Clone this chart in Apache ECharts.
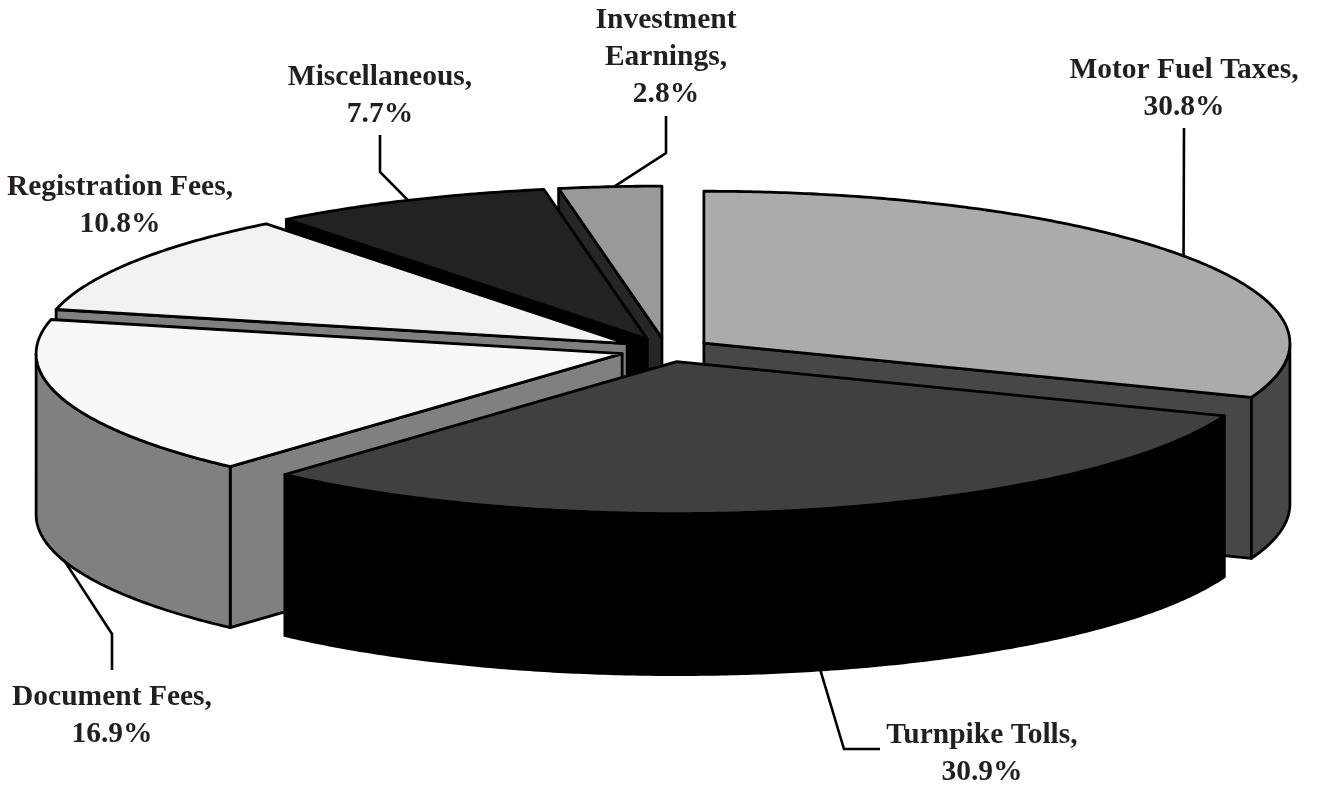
<!DOCTYPE html>
<html>
<head>
<meta charset="utf-8">
<style>html,body{margin:0;padding:0;background:#fff}#chart{width:1317px;height:786px}</style>
<script src="https://cdn.jsdelivr.net/npm/echarts@6/dist/echarts.min.js"></script>
</head>
<body>
<div id="chart"></div>
<script>
// ---- data (clockwise from 12 o'clock; labels show these rounded to one decimal) ----
const categories = ['Motor Fuel Taxes', 'Turnpike Tolls', 'Document Fees', 'Registration Fees', 'Miscellaneous', 'Investment\nEarnings'];
const shares = [30.8, 30.86, 16.94, 10.84, 7.74, 2.82];

// ---- styles ----
const topColors  = ['#ababab', '#404040', '#f8f8f8', '#f2f2f2', '#222222', '#999999'];
const wallColors = ['#474747', '#000000', '#808080', '#808080', '#000000', '#262626'];
const INK = '#000000', TEXT = '#231f20';

// ---- pie projection ----
const CX = 666, CY = 350, RX = 586, RY = 152, DEPTH = 161, EXPLODE = 0.0785;
const LW = 2.8;

// ---- label placement: text centre, leader anchor nudge (deg), then leader elbow/end ----
const labelAt = [[1184, 89], [982, 754], [112, 716], [120, 206], [380, 96], [666, 57]];
const leaderNudge = [-0.5, -0.6, -0.5, 0, 0, 0.4];
const leaderVia = [
  [[1184, 128]],
  [[844, 749], [880, 749]],
  [[112, 634], [112, 670]],
  [],
  [[380, 172], [380, 135]],
  [[666, 153], [666, 116]]
];

const total = shares.reduce((a, b) => a + b, 0);
const slices = [];
shares.reduce((acc, v, i) => {
  const a0 = acc, a1 = acc + v / total * 360, mid = (a0 + a1) / 2, m = mid * Math.PI / 180;
  slices.push({ a0, a1, mid,
    ax: CX + EXPLODE * RX * Math.sin(m),
    ay: CY - EXPLODE * RY * Math.cos(m) });
  return a1;
}, 0);
// paint back to front
const paintRank = {};
slices.map((s, i) => [i, -Math.cos(s.mid * Math.PI / 180)]).sort((a, b) => a[1] - b[1])
  .forEach((e, r) => { paintRank[e[0]] = r; });

function rim(s, deg, dy) {
  const t = deg * Math.PI / 180;
  return [s.ax + RX * Math.sin(t), s.ay - RY * Math.cos(t) + (dy || 0)];
}
function arc(s, from, to, dy) {
  const n = Math.max(2, Math.ceil(Math.abs(to - from) / 0.5)), pts = [];
  for (let k = 0; k <= n; k++) pts.push(rim(s, from + (to - from) * k / n, dy));
  return pts;
}
function poly(points, fill, z2) {
  return { type: 'polygon', z2, shape: { points },
    style: { fill, stroke: INK, lineWidth: LW, lineJoin: 'round' } };
}

function renderItem(params, api) {
  const i = params.dataIndex, s = slices[i], base = paintRank[i] * 10, kids = [];
  const sa0 = Math.sin(s.a0 * Math.PI / 180), sa1 = Math.sin(s.a1 * Math.PI / 180);
  const wall = wallColors[i];
  // radial cut walls that face the viewer
  [[s.a0, sa0 < -1e-6], [s.a1, sa1 > 1e-6]].forEach(([deg, show]) => {
    if (!show) return;
    const r = rim(s, deg);
    kids.push(poly([[s.ax, s.ay], r, [r[0], r[1] + DEPTH], [s.ax, s.ay + DEPTH]], wall, base + 1));
  });
  // outer curved wall on the front half
  const f0 = Math.max(s.a0, 90), f1 = Math.min(s.a1, 270);
  if (f1 > f0) kids.push(poly(arc(s, f0, f1, 0).concat(arc(s, f1, f0, DEPTH)), wall, base + 2));
  // top face
  kids.push(poly([[s.ax, s.ay]].concat(arc(s, s.a0, s.a1, 0)), topColors[i], base + 3));
  // leader line
  if (leaderVia[i].length) {
    const front = Math.cos(s.mid * Math.PI / 180) < 0;
    kids.push({ type: 'polyline', z2: 100,
      shape: { points: [rim(s, s.mid + leaderNudge[i], front ? DEPTH : 0)].concat(leaderVia[i]) },
      style: { fill: null, stroke: INK, lineWidth: 2.6 } });
  }
  // label
  kids.push({ type: 'text', z2: 101, x: labelAt[i][0], y: labelAt[i][1],
    style: { text: categories[i] + ',\n' + api.value(0).toFixed(1) + '%',
      font: 'bold 29.5px "Liberation Serif"', lineHeight: 37, fill: TEXT,
      align: 'center', verticalAlign: 'middle' } });
  return { type: 'group', children: kids };
}

const chart = echarts.init(document.getElementById('chart'), null, { renderer: 'canvas' });
chart.setOption({
  animation: false,
  backgroundColor: '#ffffff',
  series: [{
    type: 'custom',
    coordinateSystem: 'none',
    renderItem,
    data: shares.map((v, i) => ({ name: categories[i], value: [v] }))
  }]
});
</script>
</body>
</html>
